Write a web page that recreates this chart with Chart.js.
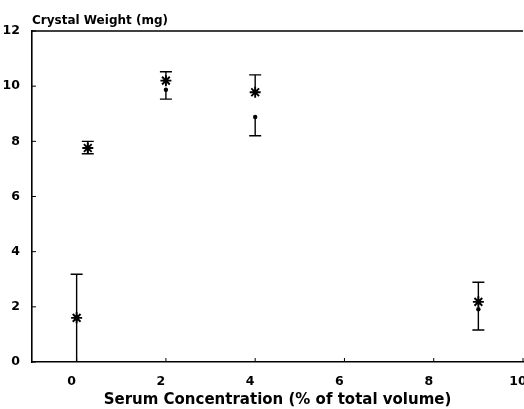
<!DOCTYPE html>
<html>
<head>
<meta charset="utf-8">
<script src="https://cdn.jsdelivr.net/npm/chart.js@4"></script>
<style>
html,body{margin:0;padding:0;background:#fff}
</style>
</head>
<body>
<canvas id="chart" width="524" height="409"></canvas>
<script>
// serum concentration (% of total volume)
const xVals = [0, 0.25, 2, 4, 9]
// asterisk series and dot series (mg)
const starVals = [1.6, 7.76, 10.2, 9.78, 2.18]
const dotVals = [1.58, 7.74, 9.87, 8.88, 1.91]
// error bar ends: upper from asterisk, lower from dot
const upperVals = [3.18, 8.0, 10.52, 10.41, 2.89]
const lowerVals = [0, 7.55, 9.53, 8.2, 1.16]

const xTicks = [0, 2, 4, 6, 8, 10]
const yTicks = [0, 2, 4, 6, 8, 10, 12]

const FONT = "'DejaVu Sans', 'Liberation Sans', Arial, sans-serif"

const noPad = s => {
s.paddingLeft = 0; s.paddingRight = 0; s.paddingTop = 0; s.paddingBottom = 0
}

// error bars, inner tick marks, top frame and y title
const decor = {
id: "decor",
beforeDatasetsDraw(chart){
let ctx = chart.ctx
let xs = chart.scales.x
let ys = chart.scales.y
let a = chart.chartArea
ctx.save()
ctx.strokeStyle = "#000"
ctx.lineWidth = 1.4

xVals.forEach((v, i) => {
let px = xs.getPixelForValue(v)
let pStar = ys.getPixelForValue(starVals[i])
let pDot = ys.getPixelForValue(dotVals[i])
let pUp = ys.getPixelForValue(upperVals[i])
let pLow = ys.getPixelForValue(lowerVals[i])
ctx.beginPath()
ctx.moveTo(px, pStar); ctx.lineTo(px, pUp)
ctx.moveTo(px, pDot); ctx.lineTo(px, pLow)
ctx.moveTo(px - 6, pUp); ctx.lineTo(px + 6, pUp)
if (lowerVals[i] > 0) { ctx.moveTo(px - 6, pLow); ctx.lineTo(px + 6, pLow) }
ctx.stroke()
})

// ticks pointing inside
ctx.lineWidth = 1
ctx.beginPath()
yTicks.forEach(v => {
let py = ys.getPixelForValue(v)
ctx.moveTo(a.left, py); ctx.lineTo(a.left + 4, py)
})
xTicks.forEach(v => {
let px = xs.getPixelForValue(v)
ctx.moveTo(px, a.bottom); ctx.lineTo(px, a.bottom - 4)
})
ctx.stroke()

// top frame line
ctx.lineWidth = 1.6
ctx.beginPath()
ctx.moveTo(a.left, a.top); ctx.lineTo(a.right, a.top)
ctx.stroke()

// y axis title
ctx.fillStyle = "#000"
ctx.font = "bold 12px " + FONT
ctx.textAlign = "left"
ctx.textBaseline = "alphabetic"
ctx.fillText("Crystal Weight (mg)", a.left, 24)
ctx.restore()
}
}

let ctx = document.getElementById("chart").getContext("2d")

window.myChart = new Chart(ctx, {
type: "scatter",
data: {
datasets: [
{
label: "Asterisk",
data: xVals.map((x, i) => ({x: x, y: starVals[i]})),
pointStyle: "star",
pointRadius: 5.5,
borderColor: "#000",
borderWidth: 1.9,
backgroundColor: "#000"
},
{
label: "Dot",
data: xVals.map((x, i) => ({x: x, y: dotVals[i]})),
pointStyle: "circle",
pointRadius: 2.2,
borderColor: "#000",
borderWidth: 0,
backgroundColor: "#000"
}
]
},
options: {
responsive: false,
animation: false,
devicePixelRatio: 1,
layout: { autoPadding: false, padding: { top: 31, right: 1, left: 0, bottom: 0 } },
plugins: { legend: { display: false }, tooltip: { enabled: false } },
scales: {
x: {
type: "linear",
min: -1,
max: 10,
afterBuildTicks: s => { s.ticks = xTicks.map(v => ({value: v})) },
afterFit: s => { s.height = 47; noPad(s) },
grid: { display: false, drawTicks: false },
border: { display: true, color: "#000", width: 1.6 },
ticks: {
color: "#000",
font: { family: FONT, weight: "bold", size: 12.5 },
padding: 12,
labelOffset: -5,
maxRotation: 0,
autoSkip: false
},
title: {
display: true,
text: "Serum Concentration (% of total volume)",
color: "#000",
font: { family: FONT, weight: "bold", size: 15 },
padding: { top: 0, bottom: 0 }
}
},
y: {
min: 0,
max: 12,
afterBuildTicks: s => { s.ticks = yTicks.map(v => ({value: v})) },
afterFit: s => { s.width = 32; noPad(s) },
grid: { display: false, drawTicks: false },
border: { display: true, color: "#000", width: 1.6 },
ticks: {
color: "#000",
font: { family: FONT, weight: "bold", size: 12.5 },
padding: 12
}
}
}
},
plugins: [decor]
})
</script>
</body>
</html>
